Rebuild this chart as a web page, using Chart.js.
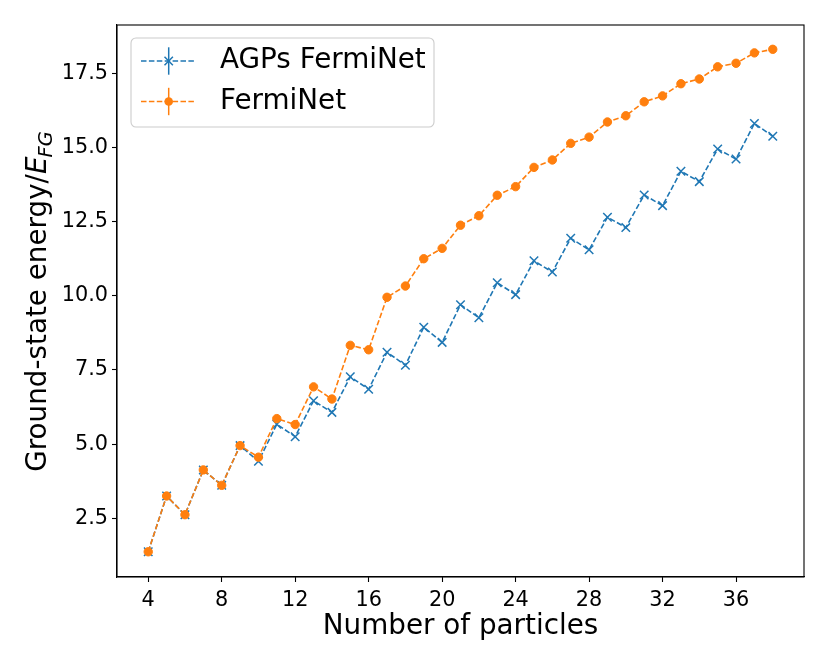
<!DOCTYPE html>
<html>
<head>
<meta charset="utf-8">
<script src="https://cdn.jsdelivr.net/npm/chart.js@4.4.1/dist/chart.umd.min.js"></script>
<style>
  html, body { margin: 0; padding: 0; background: #fff; }
  #wrap { width: 830px; height: 664px; position: relative; }
</style>
</head>
<body>
<div id="wrap"><canvas id="energyChart"></canvas></div>
<script>
const particles = [4, 5, 6, 7, 8, 9, 10, 11, 12, 13, 14, 15, 16, 17, 18, 19, 20, 21,
    22, 23, 24, 25, 26, 27, 28, 29, 30, 31, 32, 33, 34, 35, 36, 37, 38];
const agpsEnergy = [1.37, 3.25, 2.62, 4.13, 3.61, 4.95, 4.42, 5.67, 5.25, 6.46, 6.07, 7.27,
    6.85, 8.10, 7.66, 8.94, 8.43, 9.70, 9.26, 10.44, 10.04, 11.18, 10.80, 11.94, 11.55,
    12.65, 12.30, 13.40, 13.04, 14.20, 13.85, 14.95, 14.61, 15.81, 15.38];
const fermiEnergy = [1.37, 3.25, 2.62, 4.13, 3.61, 4.95, 4.56, 5.86, 5.66, 6.93, 6.52, 8.33,
    8.18, 9.95, 10.33, 11.25, 11.60, 12.38, 12.70, 13.39, 13.68, 14.33, 14.58, 15.14, 15.35,
    15.86, 16.07, 16.54, 16.74, 17.15, 17.31, 17.72, 17.84, 18.19, 18.31];
const xTicks = [4, 8, 12, 16, 20, 24, 28, 32, 36];
const yTicks = [2.5, 5.0, 7.5, 10.0, 12.5, 15.0, 17.5];
const seriesNames = ['AGPs FermiNet', 'FermiNet'];

const BLUE = '#1f77b4';
const ORANGE = '#ff7f0e';
const FONT = 'DejaVu Sans';

function toPoints(ys) {
    return particles.map((x, i) => ({ x: x, y: ys[i] }));
}

// frame, y label with mathtext-like E_FG, and matplotlib style legend
const decorations = {
    id: 'decorations',
    afterDraw(chart) {
        const ctx = chart.ctx;
        const a = chart.chartArea;
        ctx.save();
        ctx.strokeStyle = '#000';
        ctx.lineWidth = 1.1;
        ctx.setLineDash([]);
        ctx.strokeRect(a.left, a.top, a.right - a.left, a.bottom - a.top);

        // y axis title
        const fs = 27.8;
        const main = 'Ground-state energy/';
        ctx.font = fs + 'px "' + FONT + '"';
        const w1 = ctx.measureText(main).width;
        ctx.font = 'italic ' + fs + 'px "' + FONT + '"';
        const w2 = ctx.measureText('E').width;
        ctx.font = 'italic ' + (fs * 0.7) + 'px "' + FONT + '"';
        const w3 = ctx.measureText('FG').width;
        const total = w1 + w2 + w3;
        ctx.translate(46, (a.top + a.bottom) / 2);
        ctx.rotate(-Math.PI / 2);
        ctx.fillStyle = '#000';
        ctx.textBaseline = 'alphabetic';
        ctx.textAlign = 'left';
        let x0 = -total / 2;
        ctx.font = fs + 'px "' + FONT + '"';
        ctx.fillText(main, x0, 0);
        ctx.font = 'italic ' + fs + 'px "' + FONT + '"';
        ctx.fillText('E', x0 + w1, 0);
        ctx.font = 'italic ' + (fs * 0.7) + 'px "' + FONT + '"';
        ctx.fillText('FG', x0 + w1 + w2 - 1, fs * 0.2);
        ctx.restore();

        // legend
        ctx.save();
        const bx = 131, by = 38, bw = 303, bh = 89, r = 5;
        ctx.beginPath();
        ctx.moveTo(bx + r, by);
        ctx.arcTo(bx + bw, by, bx + bw, by + bh, r);
        ctx.arcTo(bx + bw, by + bh, bx, by + bh, r);
        ctx.arcTo(bx, by + bh, bx, by, r);
        ctx.arcTo(bx, by, bx + bw, by, r);
        ctx.closePath();
        ctx.fillStyle = 'rgba(255,255,255,0.8)';
        ctx.fill();
        ctx.strokeStyle = '#cccccc';
        ctx.lineWidth = 1.1;
        ctx.stroke();

        const rows = [
            { y: 61, color: BLUE, marker: 'x', label: seriesNames[0] },
            { y: 101.5, color: ORANGE, marker: 'o', label: seriesNames[1] }
        ];
        rows.forEach(row => {
            ctx.strokeStyle = row.color;
            ctx.fillStyle = row.color;
            ctx.lineWidth = 1.5;
            ctx.setLineDash([5.5, 2.4]);
            ctx.beginPath();
            ctx.moveTo(141, row.y);
            ctx.lineTo(196, row.y);
            ctx.stroke();
            ctx.setLineDash([]);
            ctx.beginPath();
            ctx.moveTo(168.7, row.y - 13.7);
            ctx.lineTo(168.7, row.y + 13.7);
            ctx.stroke();
            if (row.marker === 'o') {
                ctx.beginPath();
                ctx.arc(168.7, row.y, 4.3, 0, Math.PI * 2);
                ctx.fill();
            } else {
                ctx.beginPath();
                ctx.moveTo(164.5, row.y - 4.2);
                ctx.lineTo(172.9, row.y + 4.2);
                ctx.moveTo(164.5, row.y + 4.2);
                ctx.lineTo(172.9, row.y - 4.2);
                ctx.stroke();
            }
            ctx.fillStyle = '#000';
            ctx.font = '27.8px "' + FONT + '"';
            ctx.textBaseline = 'middle';
            ctx.textAlign = 'left';
            ctx.fillText(row.label, 220, row.y);
        });
        ctx.restore();
    }
};

const config = {
    type: 'line',
    data: {
        datasets: [{
            label: seriesNames[0],
            data: toPoints(agpsEnergy),
            borderColor: BLUE,
            backgroundColor: BLUE,
            borderWidth: 1.6,
            borderDash: [5.5, 2.4],
            pointStyle: 'crossRot',
            pointRadius: 6,
            pointBorderWidth: 1.5,
            order: 1,
        }, {
            label: seriesNames[1],
            data: toPoints(fermiEnergy),
            borderColor: ORANGE,
            backgroundColor: ORANGE,
            borderWidth: 1.6,
            borderDash: [5.5, 2.4],
            pointStyle: 'circle',
            pointRadius: 4.2,
            pointBorderWidth: 1,
            order: 0,
        }],
    },
    options: {
        responsive: true,
        maintainAspectRatio: false,
        animation: false,
        layout: { padding: { top: 25, right: 26, left: 0, bottom: 0 } },
        plugins: {
            legend: { display: false },
            tooltip: { enabled: false },
        },
        scales: {
            x: {
                type: 'linear',
                min: 2.3,
                max: 39.7,
                afterBuildTicks: (scale) => { scale.ticks = xTicks.map(v => ({ value: v })); },
                afterFit: (scale) => { scale.height = 87; },
                ticks: {
                    color: '#000',
                    font: { family: FONT, size: 20.8 },
                    padding: 6,
                    maxRotation: 0,
                    callback: (v) => String(v),
                },
                grid: { drawOnChartArea: false, tickLength: 5, tickColor: '#000', tickWidth: 1.1 },
                border: { color: '#000', width: 1.1 },
                title: {
                    display: true,
                    text: 'Number of particles',
                    color: '#000',
                    font: { family: FONT, size: 27.8 },
                    padding: { top: 4, bottom: 21 },
                },
            },
            y: {
                type: 'linear',
                min: 0.52,
                max: 19.13,
                afterBuildTicks: (scale) => { scale.ticks = yTicks.map(v => ({ value: v })); },
                afterFit: (scale) => { scale.width = 117; },
                ticks: {
                    color: '#000',
                    font: { family: FONT, size: 20.8 },
                    padding: 4,
                    callback: (v) => Number(v).toFixed(1),
                },
                grid: { drawOnChartArea: false, tickLength: 5, tickColor: '#000', tickWidth: 1.1 },
                border: { color: '#000', width: 1.1 },
            },
        },
    },
    plugins: [decorations],
};

const ctx = document.getElementById('energyChart').getContext('2d');
new Chart(ctx, config);
</script>
</body>
</html>
